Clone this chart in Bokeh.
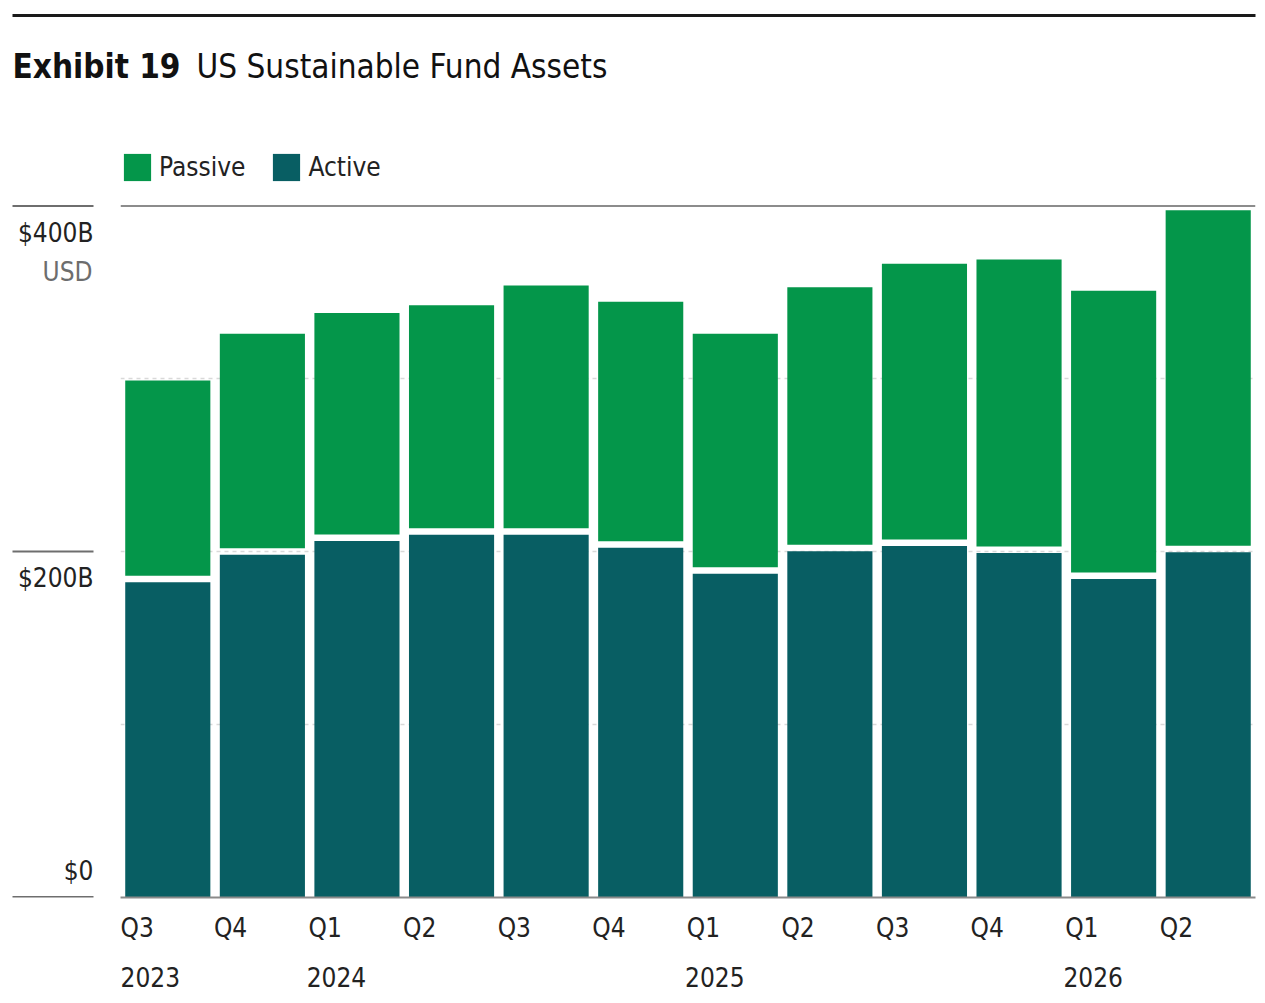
from bokeh.plotting import figure
from bokeh.models import (ColumnDataSource, Range1d, LinearAxis, FixedTicker, Span,
                          Legend, LegendItem, Grid)
from bokeh.layouts import column, row
from bokeh.embed import file_html
from bokeh.resources import INLINE
from bokeh.core.properties import value

# ---------------- data ----------------
quarters = ["Q3", "Q4", "Q1", "Q2", "Q3", "Q4", "Q1", "Q2", "Q3", "Q4", "Q1", "Q2"]
year_labels = {0: "2023", 2: "2024", 6: "2025", 10: "2026"}
active = [184, 200, 208, 211.5, 211.5, 204, 189, 202, 205, 201, 186, 201.5]
passive = [115, 126, 130, 131, 142.5, 140.5, 137, 151, 161.5, 168, 165, 196]
y_ticks = [0, 200, 400]
y_tick_labels = ["$0", "$200B", "$400B"]
grid_ticks = [100, 200, 300]
unit_label = "USD"
title_bold = "Exhibit 19"
title_rest = "US Sustainable Fund Assets"

# ---------------- style ----------------
FONT = "'Liberation Sans Narrow', 'DejaVu Sans Condensed', sans-serif"
FS = "26px"
GREEN = "#04964A"
TEAL = "#085E63"
TXT = "#222222"

W_LEFT, W_MAIN, H_MAIN, H_HEAD = 120, 1138, 849, 146
BORDER_BOTTOM = 98
FRAME_W = W_MAIN - 3
FRAME_H = H_MAIN - BORDER_BOTTOM
PX_PER_B = 1.7275
Y0 = -0.3
Y1 = Y0 + FRAME_H / PX_PER_B
N = len(quarters)
UNIT = FRAME_W / N
HALF_GAP = 3.25 / PX_PER_B

idx = list(range(N))
src = ColumnDataSource(dict(
    x=idx,
    a_top=[a - HALF_GAP for a in active],
    p_bot=[a + HALF_GAP for a in active],
    p_top=[a + p for a, p in zip(active, passive)],
))

yr = Range1d(Y0, Y1)

# ---------------- main chart ----------------
p = figure(width=W_MAIN, height=H_MAIN, x_range=Range1d(-0.5, N - 0.5), y_range=yr,
           output_backend="svg", toolbar_location=None, title=None,
           x_axis_location=None, y_axis_location=None,
           min_border_left=0, min_border_right=3, min_border_top=0,
           min_border_bottom=BORDER_BOTTOM, outline_line_color=None)
p.grid.visible = False

p.add_layout(Grid(dimension=1, ticker=FixedTicker(ticks=grid_ticks),
                  grid_line_color="#d9d9d9", grid_line_width=1.5,
                  grid_line_dash="4 4"))

r_a = p.vbar(x="x", bottom=0, top="a_top", width=0.9, source=src,
             fill_color=TEAL, line_color=None)
r_p = p.vbar(x="x", bottom="p_bot", top="p_top", width=0.9, source=src,
             fill_color=GREEN, line_color=None)

p.add_layout(Span(location=y_ticks[-1], dimension="width",
                  line_color="#8c8c8c", line_width=2))

# x axes: quarter row and year row (labels centred on their text)
q_shift = 15.5 / UNIT
y_shift = 26.8 / UNIT
p.extra_x_ranges = {
    "q": Range1d(-q_shift, N - q_shift),
    "yr": Range1d(-y_shift, N - y_shift),
}

ax_q = LinearAxis(x_range_name="q", ticker=FixedTicker(ticks=idx),
                  major_label_overrides={i: q for i, q in enumerate(quarters)})
ax_y = LinearAxis(x_range_name="yr", ticker=FixedTicker(ticks=list(year_labels.keys())),
                  major_label_overrides=year_labels)
for ax in (ax_q, ax_y):
    ax.major_tick_line_color = None
    ax.minor_tick_line_color = None
    ax.major_tick_out = 0
    ax.major_tick_in = 0
    ax.minor_tick_out = 0
    ax.minor_tick_in = 0
    ax.major_label_text_font = FONT
    ax.major_label_text_font_size = FS
    ax.major_label_text_color = TXT
ax_q.axis_line_color = "#8a8a8a"
ax_q.axis_line_width = 2
ax_q.major_label_standoff = 15
ax_y.axis_line_color = None
ax_y.major_label_standoff = 21
p.add_layout(ax_q, "below")
p.add_layout(ax_y, "below")

legend = Legend(items=[LegendItem(label="Passive", renderers=[r_p]),
                       LegendItem(label="Active", renderers=[r_a])],
                orientation="horizontal", location="top_left",
                glyph_width=34, glyph_height=34, label_height=41,
                label_standoff=5, spacing=24,
                padding=0, margin=0, border_line_color=None,
                background_fill_alpha=0,
                label_text_font=FONT, label_text_font_size=FS,
                label_text_color=TXT)
p.add_layout(legend)

# ---------------- left: value scale ----------------
pl = figure(width=W_LEFT, height=H_MAIN, x_range=Range1d(0, W_LEFT), y_range=yr,
            output_backend="svg", toolbar_location=None, title=None,
            x_axis_location=None, y_axis_location=None,
            min_border_left=0, min_border_right=0, min_border_top=0,
            min_border_bottom=BORDER_BOTTOM, outline_line_color=None)
pl.grid.visible = False
pl.segment(x0=12, x1=93, y0=y_ticks, y1=y_ticks, line_color="#6e6e6e", line_width=2)
offs = [-26 if t == 0 else 27 for t in y_ticks]
pl.text(x=93, y=y_ticks, text=y_tick_labels, y_offset=offs,
        text_align="right", text_baseline="alphabetic",
        text_font=value(FONT), text_font_size=FS, text_color=TXT)
pl.text(x=[92], y=[y_ticks[-1]], text=[unit_label], y_offset=66,
        text_align="right", text_baseline="alphabetic",
        text_font=value(FONT), text_font_size=FS, text_color="#6d6d6d")

# ---------------- header ----------------
h = figure(width=W_LEFT + W_MAIN, height=H_HEAD, x_range=Range1d(0, W_LEFT + W_MAIN),
           y_range=Range1d(0, H_HEAD), output_backend="svg", toolbar_location=None,
           title=None, x_axis_location=None, y_axis_location=None,
           min_border=0, outline_line_color=None)
h.grid.visible = False
h.segment(x0=[12], x1=[1255], y0=[131], y1=[131], line_color="#1a1a1a", line_width=3)
h.text(x=[12], y=[80], text=[title_bold], text_font=value(FONT), text_font_size="33px",
       text_font_style="bold", text_color="#111111", text_baseline="alphabetic")
h.text(x=[196], y=[80], text=[title_rest], text_font=value(FONT), text_font_size="33px",
       text_color="#111111", text_baseline="alphabetic")

layout = column(h, row(pl, p, spacing=0), spacing=0)

open("out.html", "w").write(file_html(layout, INLINE))
